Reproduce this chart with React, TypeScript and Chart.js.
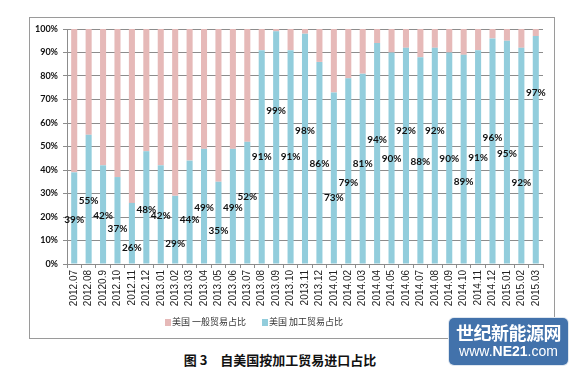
import React, { useEffect, useRef } from "react";
import { Chart, registerables } from "chart.js";

Chart.register(...registerables);

const categories = [
  "2012.07", "2012.08", "20120.9", "2012.10", "2012.11", "2012.12",
  "2013.01", "2013.02", "2013.03", "2013.04", "2013.05", "2013.06",
  "2013.07", "2013.08", "2013.09", "2013.10", "2013.11", "2013.12",
  "2014.01", "2014.02", "2014.03", "2014.04", "2014.05", "2014.06",
  "2014.07", "2014.08", "2014.09", "2014.10", "2014.11", "2014.12",
  "2015.01", "2015.02", "2015.03",
];

// 美国 加工贸易占比 (%)
const processingShare = [
  39, 55, 42, 37, 26, 48, 42, 29, 44, 49, 35, 49, 52, 91, 99, 91, 98, 86,
  73, 79, 81, 94, 90, 92, 88, 92, 90, 89, 91, 96, 95, 92, 97,
];

// 美国 一般贸易占比 (%)
const generalShare = [
  61, 45, 58, 63, 74, 52, 58, 71, 56, 51, 65, 51, 48, 9, 1, 9, 2, 14,
  27, 21, 19, 6, 10, 8, 12, 8, 10, 11, 9, 4, 5, 8, 3,
];

// value (in % of the y axis) at which each data label sits in the original
const labelLevels = [
  19, 27, 20.5, 15, 7, 23, 20.5, 8.5, 19, 24, 14, 24, 28.5, 45.5, 65, 45.5,
  56.5, 42.5, 28, 34.5, 42.5, 53, 44.7, 56.5, 43.4, 56.5, 44.7, 35, 45, 53.6,
  47, 34.5, 73,
];

const seriesNames = ["美国 一般贸易占比", "美国 加工贸易占比"];
const title = "图 3　自美国按加工贸易进口占比";

const PINK = "#E6B9B8";
const BLUE = "#92CDDC";
const GRID = "#8c8c8c";

export default function App() {
  const ref = useRef<HTMLCanvasElement>(null);

  useEffect(() => {
    const labelPlugin = {
      id: "barLabels",
      afterDatasetsDraw(chart: any) {
        const meta = chart.getDatasetMeta(0);
        const yScale = chart.scales.y;
        const ctx = chart.ctx;
        ctx.save();
        ctx.font = "bold 10px Lato";
        ctx.fillStyle = "#111";
        ctx.textAlign = "center";
        ctx.textBaseline = "middle";
        meta.data.forEach((el: any, i: number) => {
          const { x } = el.getProps(["x"], true);
          ctx.fillText(processingShare[i] + "%", x, yScale.getPixelForValue(labelLevels[i]));
        });
        ctx.restore();
      },
    };

    const chart = new Chart(ref.current as HTMLCanvasElement, {
      type: "bar",
      data: {
        labels: categories,
        datasets: [
          {
            label: seriesNames[1],
            data: processingShare,
            backgroundColor: BLUE,
            categoryPercentage: 1,
            barPercentage: 0.42,
          },
          {
            label: seriesNames[0],
            data: generalShare,
            backgroundColor: PINK,
            categoryPercentage: 1,
            barPercentage: 0.42,
          },
        ],
      },
      options: {
        responsive: false,
        animation: false,
        layout: { padding: { top: 11, right: 10, left: 0, bottom: 0 } },
        plugins: {
          legend: { display: false },
          tooltip: { enabled: false },
        },
        scales: {
          x: {
            stacked: true,
            grid: {
              drawOnChartArea: false,
              drawTicks: true,
              tickLength: 4,
              color: GRID,
              offset: true,
            },
            border: { color: GRID },
            ticks: {
              maxRotation: 90,
              minRotation: 90,
              autoSkip: false,
              padding: 2,
              color: "#222",
              font: { family: "Liberation Sans", size: 10 },
            },
            afterFit: (s: any) => {
              s.height = 54;
            },
          },
          y: {
            stacked: true,
            min: 0,
            max: 100,
            ticks: {
              stepSize: 10,
              callback: (v: any) => v + "%",
              padding: 5,
              color: "#111",
              font: { family: "Lato", size: 9, weight: "bold" },
            },
            grid: { color: GRID, tickLength: 4 },
            border: { color: GRID },
            afterFit: (s: any) => {
              s.width = 37;
            },
          },
        },
      },
      plugins: [labelPlugin],
    });
    return () => chart.destroy();
  }, []);

  return (
    <div
      style={{
        position: "absolute",
        left: 0,
        top: 0,
        width: 574,
        height: 373,
        background: "#fff",
        overflow: "hidden",
        fontFamily: "'Noto Sans CJK SC', sans-serif",
      }}
    >
      <div
        style={{
          position: "absolute",
          left: 29,
          top: 17,
          width: 524,
          height: 320,
          border: "1px solid #9a9a9a",
        }}
      />
      <canvas
        ref={ref}
        width={523}
        height={300}
        style={{ position: "absolute", left: 30, top: 18, width: 523, height: 300 }}
      />
      {/* legend */}
      <div
        style={{
          position: "absolute",
          left: 165,
          top: 315,
          display: "flex",
          alignItems: "center",
          fontSize: 9,
          color: "#333",
          whiteSpace: "nowrap",
          lineHeight: "14px",
        }}
      >
        <span style={{ display: "inline-block", width: 6, height: 7, background: PINK, marginRight: 1 }} />
        <span style={{ marginRight: 16 }}>{seriesNames[0]}</span>
        <span style={{ display: "inline-block", width: 6, height: 7, background: BLUE, marginRight: 1 }} />
        <span>{seriesNames[1]}</span>
      </div>
      {/* title */}
      <div
        style={{
          position: "absolute",
          left: 0,
          width: 560,
          top: 351,
          textAlign: "center",
          fontSize: 13,
          fontWeight: 700,
          color: "#111",
          lineHeight: "18px",
          whiteSpace: "pre",
        }}
      >
        {title}
      </div>
      {/* watermark */}
      <div
        style={{
          position: "absolute",
          left: 449,
          top: 318,
          width: 119,
          height: 47,
          borderRadius: 5,
          background: "#4272ab",
          color: "#fff",
          textAlign: "center",
          boxShadow: "0 0 0 1px #dfe7f0",
        }}
      >
        <div style={{ fontSize: 18, fontWeight: 700, lineHeight: "22px", marginTop: 3, letterSpacing: -0.5 }}>
          世纪新能源网
        </div>
        <div style={{ fontSize: 14, lineHeight: "17px", fontFamily: "'Liberation Sans', Arial, sans-serif" }}>
          www.<b>NE21</b>.com
        </div>
      </div>
    </div>
  );
}
